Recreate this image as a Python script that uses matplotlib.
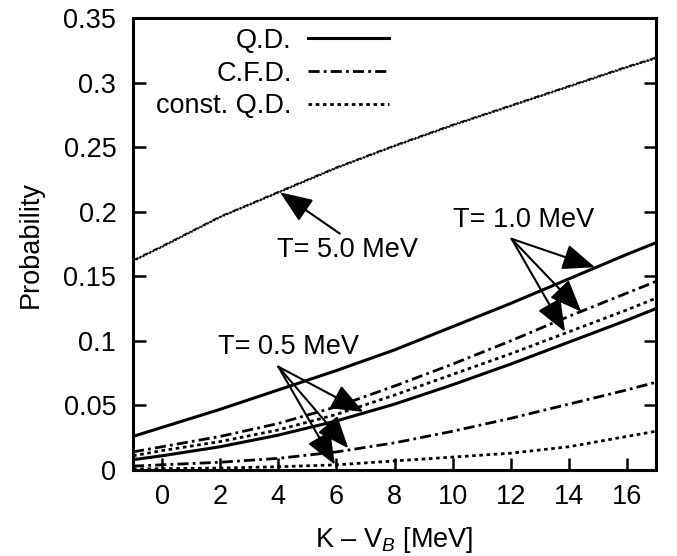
import numpy as np
import matplotlib
matplotlib.use("Agg")
import matplotlib.pyplot as plt

plt.rcParams['font.family'] = ['Liberation Sans', 'DejaVu Sans']
plt.rcParams['mathtext.fontset'] = 'custom'
plt.rcParams['mathtext.rm'] = 'Liberation Sans'
plt.rcParams['mathtext.it'] = 'Liberation Sans:italic'

# K - V_B grid [MeV]
K = [-1, 0, 2, 4, 6, 8, 10, 12, 14, 16, 17]

# T = 5.0 MeV (three curves almost on top of each other)
qd_T50 = [0.162, 0.173, 0.196, 0.215, 0.234, 0.251, 0.267, 0.282, 0.297, 0.312, 0.319]
cfd_T50 = [0.1625, 0.1735, 0.1965, 0.2155, 0.2345, 0.2515, 0.2675, 0.2825, 0.2975, 0.3125, 0.3195]
cqd_T50 = [0.1615, 0.1725, 0.1955, 0.2145, 0.2335, 0.2505, 0.2665, 0.2815, 0.2965, 0.3115, 0.3185]

# T = 1.0 MeV
qd_T10 = [0.026, 0.033, 0.047, 0.062, 0.077, 0.093, 0.111, 0.129, 0.148, 0.167, 0.176]
cfd_T10 = [0.014, 0.018, 0.026, 0.036, 0.049, 0.065, 0.082, 0.100, 0.119, 0.137, 0.146]
cqd_T10 = [0.011, 0.015, 0.022, 0.031, 0.043, 0.058, 0.074, 0.090, 0.107, 0.124, 0.133]

# T = 0.5 MeV
qd_T05 = [0.008, 0.011, 0.018, 0.027, 0.038, 0.051, 0.066, 0.082, 0.099, 0.116, 0.125]
cfd_T05 = [0.003, 0.004, 0.006, 0.009, 0.014, 0.021, 0.030, 0.040, 0.051, 0.062, 0.068]
cqd_T05 = [0.0008, 0.001, 0.0015, 0.0025, 0.004, 0.007, 0.010, 0.013, 0.018, 0.026, 0.030]

# annotations: label anchor, arrow tail, arrow tips
labels = ["T= 5.0 MeV", "T= 1.0 MeV", "T= 0.5 MeV"]
label_pos = [(3.96, 0.170), (10.0, 0.1935), (1.93, 0.0955)]
arrow_tail = [(6.12, 0.183), (12.03, 0.179), (4.0, 0.080)]
arrow_tips = [[(4.06, 0.215)],
              [(14.9, 0.157), (14.43, 0.1225), (13.87, 0.107)],
              [(6.93, 0.045), (6.41, 0.0168), (5.95, 0.004)]]

dashdot = (0, (4, 1.5, 1, 1.5))
dotted = (0, (1.3, 1.3))
fs = 19.5

fig = plt.figure(figsize=(6.77, 5.56), dpi=100)
ax = fig.add_axes([0.1965, 0.1547, 0.7725, 0.8129])

# thin T=5 curves
ax.plot(K, qd_T50, color='#444444', lw=1.0)
ax.plot(K, cfd_T50, color='black', lw=1.0, ls=dashdot)
ax.plot(K, cqd_T50, color='black', lw=1.0, ls=dotted)

ax.plot(K, qd_T10, color='black', lw=2.2, label='Q.D.')
ax.plot(K, cfd_T10, color='black', lw=2.0, ls=dashdot, label='C.F.D.')
ax.plot(K, cqd_T10, color='black', lw=2.0, ls=dotted, label='const. Q.D.')

ax.plot(K, qd_T05, color='black', lw=2.2)
ax.plot(K, cfd_T05, color='black', lw=2.0, ls=dashdot)
ax.plot(K, cqd_T05, color='black', lw=2.0, ls=dotted)

for lab, pos, tail, tips in zip(labels, label_pos, arrow_tail, arrow_tips):
    ax.text(pos[0], pos[1], lab, fontsize=fs, ha='left', va='center')
    for tip in tips:
        ax.annotate('', xy=tip, xytext=tail,
                    arrowprops=dict(arrowstyle='-|>,head_length=1.0,head_width=0.4',
                                    color='black', lw=1.5, mutation_scale=20,
                                    shrinkA=0, shrinkB=0))

ax.set_xlim(-1, 17)
ax.set_ylim(0, 0.35)
ax.set_xticks([0, 2, 4, 6, 8, 10, 12, 14, 16])
ax.set_yticks([0, 0.05, 0.1, 0.15, 0.2, 0.25, 0.3, 0.35])
ax.set_yticklabels(['0', '0.05', '0.1', '0.15', '0.2', '0.25', '0.3', '0.35'])
ax.tick_params(direction='in', length=9, width=1.8, labelsize=fs, right=True, top=False)
ax.tick_params(axis='x', pad=10)
ax.tick_params(axis='y', pad=12)
for s in ax.spines.values():
    s.set_linewidth(2.2)

ax.set_xlabel(r'K – V$_{\mathit{B}}$ [MeV]', fontsize=fs, va='baseline')
ax.xaxis.set_label_coords(0.5, -0.170)
ax.set_ylabel('Probability', fontsize=fs, va='center')
ax.yaxis.set_label_coords(-0.195, 0.5)

leg = ax.legend(loc='upper right', bbox_to_anchor=(0.49, 0.978), frameon=False,
                markerfirst=False, fontsize=fs, handlelength=3.0,
                handletextpad=0.6, labelspacing=0.25, borderpad=0, borderaxespad=0)

fig.savefig('out.png', dpi=100)
